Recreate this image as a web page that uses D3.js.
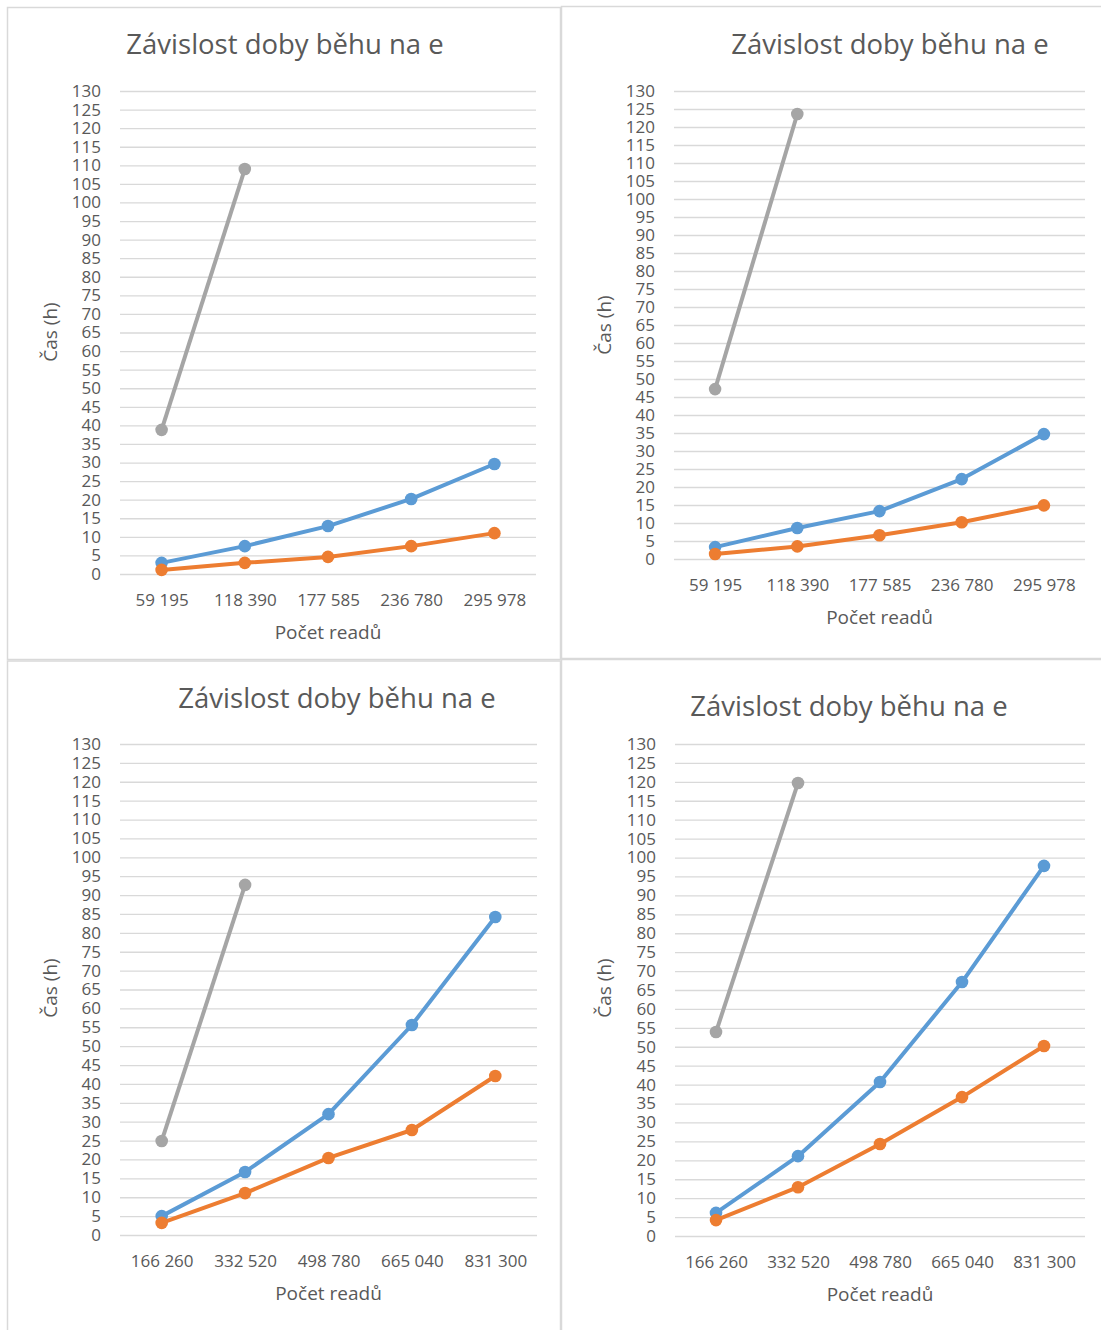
<!DOCTYPE html>
<html>
<head>
<meta charset="utf-8">
<script src="https://cdn.jsdelivr.net/npm/d3@7"></script>
<style>
  html, body { margin: 0; padding: 0; background: #fff; }
  svg { display: block; font-family: "Open Sans", "Noto Sans", sans-serif; }
</style>
</head>
<body>
<svg id="chart" width="1101" height="1330"></svg>
<script>
// ---- data ----
const titleText = "Závislost doby běhu na e";
const xTitle = "Počet readů";
const yTitle = "Čas (h)";
const yTickValues = [0,5,10,15,20,25,30,35,40,45,50,55,60,65,70,75,80,85,90,95,100,105,110,115,120,125,130];

const catsSmall = ["59 195","118 390","177 585","236 780","295 978"];
const catsLarge = ["166 260","332 520","498 780","665 040","831 300"];

const p1Blue   = [3.0, 7.5, 12.9, 20.2, 29.6];
const p1Orange = [1.1, 3.0, 4.6, 7.5, 11.0];
const p1Gray   = [38.8, 109.0];

const p2Blue   = [3.3, 8.6, 13.3, 22.2, 34.7];
const p2Orange = [1.4, 3.5, 6.6, 10.2, 14.9];
const p2Gray   = [47.2, 123.6];

const p3Blue   = [5.0, 16.7, 32.0, 55.6, 84.2];
const p3Orange = [3.2, 11.1, 20.4, 27.8, 42.1];
const p3Gray   = [24.9, 92.7];

const p4Blue   = [6.1, 21.1, 40.7, 67.1, 97.8];
const p4Orange = [4.2, 12.9, 24.3, 36.7, 50.2];
const p4Gray   = [53.9, 119.7];

const seriesColors = { blue: "#5b9bd5", orange: "#ed7d31", gray: "#a5a5a5" };

// ---- layout ----
const panels = [
  { box:[7.5,7.5,553,652], x0:120, x1:536, yTop:91, yBot:574, titleX:285, titleY:54, yTitleX:50, yTitleY:332,
    cats:catsSmall, blue:p1Blue, orange:p1Orange, gray:p1Gray },
  { box:[561.5,6.5,545,652], x0:674, x1:1085, yTop:91, yBot:559, titleX:890, titleY:54, yTitleX:604, yTitleY:325,
    cats:catsSmall, blue:p2Blue, orange:p2Orange, gray:p2Gray },
  { box:[7.5,661,553,680], x0:120, x1:537, yTop:744, yBot:1235, titleX:337, titleY:708, yTitleX:50, yTitleY:988,
    cats:catsLarge, blue:p3Blue, orange:p3Orange, gray:p3Gray },
  { box:[561.5,659.5,545,680], x0:675, x1:1085, yTop:744, yBot:1236, titleX:849, titleY:716, yTitleX:604, yTitleY:988,
    cats:catsLarge, blue:p4Blue, orange:p4Orange, gray:p4Gray }
];

const svg = d3.select("#chart");
const textColor = "#595959";

panels.forEach(p => {
  const g = svg.append("g");
  // panel border
  g.append("rect")
    .attr("x", p.box[0]).attr("y", p.box[1])
    .attr("width", p.box[2]).attr("height", p.box[3])
    .attr("fill", "none").attr("stroke", "#d9d9d9").attr("stroke-width", 1.5);

  const x = d3.scalePoint().domain(p.cats).range([p.x0, p.x1]).padding(0.5);
  const y = d3.scaleLinear().domain([0, 130]).range([p.yBot, p.yTop]);

  // y axis with gridlines
  const yAx = g.append("g")
    .attr("transform", `translate(${p.x0},0)`)
    .call(d3.axisLeft(y).tickValues(yTickValues).tickSize(-(p.x1 - p.x0)).tickPadding(19));
  yAx.select(".domain").remove();
  yAx.selectAll(".tick line").attr("stroke", "#d9d9d9").attr("stroke-width", 1.3);
  yAx.selectAll(".tick text")
    .attr("fill", textColor).attr("font-size", 17)
    .attr("font-family", "'Open Sans', 'Noto Sans', sans-serif");

  // x axis labels
  const xAx = g.append("g")
    .attr("transform", `translate(0,${p.yBot})`)
    .call(d3.axisBottom(x).tickSize(0).tickPadding(20));
  xAx.select(".domain").remove();
  xAx.selectAll(".tick text")
    .attr("fill", textColor).attr("font-size", 17)
    .attr("font-family", "'Open Sans', 'Noto Sans', sans-serif");

  // titles
  g.append("text").attr("x", p.titleX).attr("y", p.titleY)
    .attr("text-anchor", "middle").attr("fill", textColor)
    .attr("font-size", 27.5).text(titleText);
  g.append("text").attr("x", (p.x0 + p.x1) / 2).attr("y", p.yBot + 65)
    .attr("text-anchor", "middle").attr("fill", textColor)
    .attr("font-size", 19).text(xTitle);
  g.append("text")
    .attr("transform", `translate(${p.yTitleX},${p.yTitleY}) rotate(-90)`)
    .attr("text-anchor", "middle").attr("dominant-baseline", "central")
    .attr("fill", textColor).attr("font-size", 19).text(yTitle);

  // series
  const line = d3.line().x(d => x(d.c)).y(d => y(d.v));
  const series = [
    { vals: p.blue, color: seriesColors.blue },
    { vals: p.orange, color: seriesColors.orange },
    { vals: p.gray, color: seriesColors.gray }
  ];
  series.forEach(s => {
    const pts = s.vals.map((v, i) => ({ c: p.cats[i], v }));
    g.append("path").datum(pts).attr("d", line)
      .attr("fill", "none").attr("stroke", s.color)
      .attr("stroke-width", 4).attr("stroke-linejoin", "round");
    g.selectAll(null).data(pts).enter().append("circle")
      .attr("cx", d => x(d.c)).attr("cy", d => y(d.v)).attr("r", 6.3)
      .attr("fill", s.color);
  });
});
</script>
</body>
</html>
